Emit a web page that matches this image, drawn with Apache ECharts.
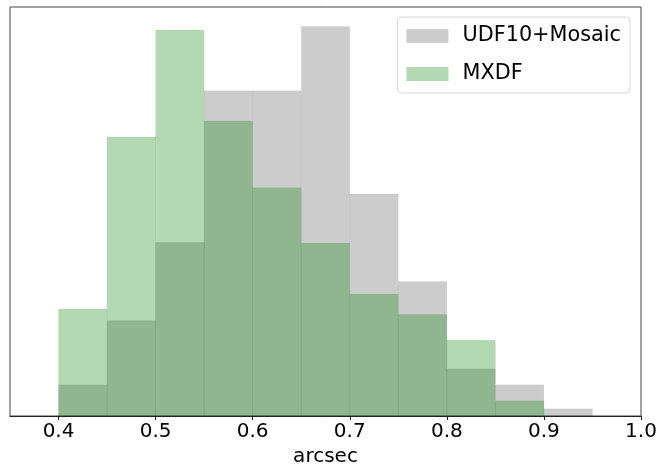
<!DOCTYPE html>
<html>
<head>
<meta charset="utf-8">
<script src="https://cdn.jsdelivr.net/npm/echarts@6/dist/echarts.min.js"></script>
<style>html,body{margin:0;padding:0;background:#fff}#c{width:664px;height:474px}</style>
</head>
<body>
<div id="c"></div>
<script>
// Histogram bin left edges (width 0.05), density values
const binStarts = [0.40, 0.45, 0.50, 0.55, 0.60, 0.65, 0.70, 0.75, 0.80, 0.85, 0.90];
const binWidth = 0.05;
const udfMosaic = [0.35, 1.07, 1.95, 3.65, 3.65, 4.37, 2.49, 1.51, 0.53, 0.35, 0.08];
const mxdf = [1.20, 3.13, 4.33, 3.31, 2.56, 1.94, 1.37, 1.14, 0.85, 0.17];
const tickValues = [0.4, 0.5, 0.6, 0.7, 0.8, 0.9, 1.0];
const seriesNames = ['UDF10+Mosaic', 'MXDF'];

const FONT = 'DejaVu Sans';
const grayCol = 'rgba(0,0,0,0.2)';
const greenCol = 'rgba(0,128,0,0.3)';
const grayEdge = 'rgba(0,0,0,0.03)';
const greenEdge = 'rgba(0,80,0,0.05)';

function toRows(vals) {
  return vals.map((v, i) => [binStarts[i], binStarts[i] + binWidth, v]);
}
function makeRender(col, edge) {
  return function (params, api) {
    const p0 = api.coord([api.value(0), api.value(2)]);
    const p1 = api.coord([api.value(1), 0]);
    return {
      type: 'rect',
      shape: { x: p0[0], y: p0[1], width: p1[0] - p0[0], height: p1[1] - p0[1] },
      style: { fill: col, stroke: edge, lineWidth: 1 }
    };
  };
}
const yMax = Math.max(...udfMosaic, ...mxdf) * 1.05;

const chart = echarts.init(document.getElementById('c'), null, { renderer: 'canvas' });
chart.setOption({
  animation: false,
  grid: { left: 10, right: 23, top: 7, bottom: 58, show: true, borderColor: '#444', borderWidth: 1, backgroundColor: 'transparent' },
  legend: {
    orient: 'vertical', right: 34, top: 17,
    data: seriesNames,
    icon: 'rect', itemWidth: 42, itemHeight: 14, itemGap: 14,
    padding: [7, 9, 7, 9],
    borderColor: '#d6d6d6', borderWidth: 1, borderRadius: 4,
    textStyle: { fontFamily: FONT, fontSize: 20.8, color: '#000', lineHeight: 24, padding: [0, 0, 0, 9] }
  },
  xAxis: {
    type: 'value', min: 0.35, max: 1.0,
    name: 'arcsec', nameLocation: 'middle', nameGap: 31,
    nameTextStyle: { fontFamily: FONT, fontSize: 20, color: '#000' },
    axisLine: { show: true, lineStyle: { color: '#222', width: 1 } },
    axisTick: { show: true, customValues: tickValues, length: 4, lineStyle: { color: '#222' } },
    axisLabel: { customValues: tickValues, margin: 6, fontFamily: FONT, fontSize: 20, color: '#000',
      formatter: v => v.toFixed(1) },
    splitLine: { show: false }
  },
  yAxis: {
    type: 'value', min: 0, max: yMax,
    axisLine: { show: false }, axisTick: { show: false }, axisLabel: { show: false }, splitLine: { show: false }
  },
  series: [
    { name: seriesNames[0], type: 'custom', renderItem: makeRender(grayCol, grayEdge), itemStyle: { color: grayCol },
      encode: { x: [0, 1], y: 2 }, data: toRows(udfMosaic) },
    { name: seriesNames[1], type: 'custom', renderItem: makeRender(greenCol, greenEdge), itemStyle: { color: greenCol },
      encode: { x: [0, 1], y: 2 }, data: toRows(mxdf) }
  ]
});
</script>
</body>
</html>
